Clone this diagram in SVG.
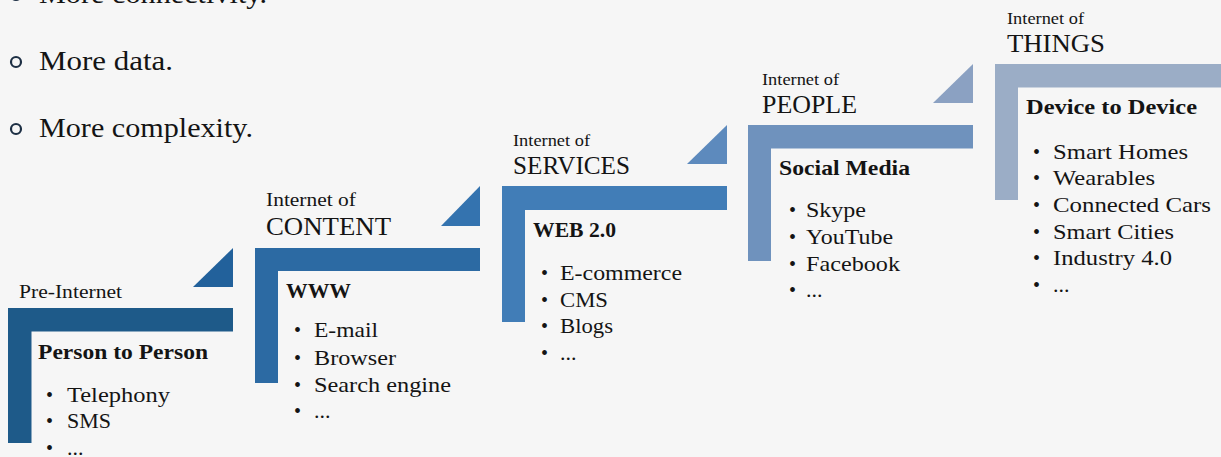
<svg xmlns="http://www.w3.org/2000/svg" width="1221" height="457" viewBox="0 0 1221 457">
<style>
text{font-family:"Liberation Serif","Times New Roman",serif;fill:#141414}
.sm{font-size:18px}
.sm2{font-size:16px}
.big{font-size:26px}
.hd{font-size:22px;font-weight:bold}
.it{font-size:22px}
.bl{font-size:20px}
.top{font-size:28px}
.ring{fill:none;stroke:#1d2f44;stroke-width:2.2}
</style>
<rect x="0" y="0" width="1221" height="457" fill="#f6f6f6"/>
<g id="intro">
<circle class="ring" cx="16" cy="-5" r="5"/>
<circle class="ring" cx="16" cy="62" r="5"/>
<circle class="ring" cx="16" cy="129" r="5"/>
<text class="top" x="39" y="3" textLength="228" lengthAdjust="spacingAndGlyphs">More connectivity.</text>
<text class="top" x="39" y="70" textLength="134" lengthAdjust="spacingAndGlyphs">More data.</text>
<text class="top" x="39" y="137" textLength="214" lengthAdjust="spacingAndGlyphs">More complexity.</text>
</g>
<g id="connectors">
<polygon points="193,287 233,287 233,248" fill="#22619b"/>
<polygon points="441,226 480,226 480,186" fill="#3473af"/>
<polygon points="687,164 727,164 727,125" fill="#5d8abd"/>
<polygon points="933,103 973,103 973,64" fill="#8ba1c2"/>
</g>
<g id="pre-internet">
<path d="M8,308 H233 V331.5 H31.5 V443 H8 Z" fill="#1e5a89"/>
<text class="sm" x="19" y="298" textLength="103" lengthAdjust="spacingAndGlyphs">Pre-Internet</text>
<text class="hd" x="38" y="359" textLength="170" lengthAdjust="spacingAndGlyphs">Person to Person</text>
<text class="bl" x="46" y="401.5">•</text><text class="it" x="67" y="401.5" textLength="103" lengthAdjust="spacingAndGlyphs">Telephony</text>
<text class="bl" x="46" y="428">•</text><text class="it" x="67" y="428" textLength="44" lengthAdjust="spacingAndGlyphs">SMS</text>
<text class="bl" x="46" y="455">•</text><text class="it" x="67" y="455">...</text>
</g>
<g id="content">
<path d="M255,248 H480 V271 H278 V383 H255 Z" fill="#2c6aa3"/>
<text class="sm" x="266" y="206" textLength="90" lengthAdjust="spacingAndGlyphs">Internet of</text>
<text class="big" x="266" y="235" textLength="125" lengthAdjust="spacingAndGlyphs">CONTENT</text>
<text class="hd" x="286" y="297.5" textLength="65" lengthAdjust="spacingAndGlyphs">WWW</text>
<text class="bl" x="294" y="337">•</text><text class="it" x="314" y="337" textLength="64" lengthAdjust="spacingAndGlyphs">E-mail</text>
<text class="bl" x="294" y="364.5">•</text><text class="it" x="314" y="364.5" textLength="82" lengthAdjust="spacingAndGlyphs">Browser</text>
<text class="bl" x="294" y="391.5">•</text><text class="it" x="314" y="391.5" textLength="137" lengthAdjust="spacingAndGlyphs">Search engine</text>
<text class="bl" x="294" y="418">•</text><text class="it" x="314" y="418">...</text>
</g>
<g id="services">
<path d="M502,186 H727 V210 H525 V322 H502 Z" fill="#417db7"/>
<text class="sm2" x="513" y="146" textLength="77" lengthAdjust="spacingAndGlyphs">Internet of</text>
<text class="big" x="513" y="174" textLength="117" lengthAdjust="spacingAndGlyphs">SERVICES</text>
<text class="hd" x="533" y="236.5" textLength="83" lengthAdjust="spacingAndGlyphs">WEB 2.0</text>
<text class="bl" x="541" y="280">•</text><text class="it" x="560" y="280" textLength="122" lengthAdjust="spacingAndGlyphs">E-commerce</text>
<text class="bl" x="541" y="306.5">•</text><text class="it" x="560" y="306.5" textLength="48" lengthAdjust="spacingAndGlyphs">CMS</text>
<text class="bl" x="541" y="333">•</text><text class="it" x="560" y="333" textLength="53" lengthAdjust="spacingAndGlyphs">Blogs</text>
<text class="bl" x="541" y="360">•</text><text class="it" x="560" y="360">...</text>
</g>
<g id="people">
<path d="M748,125 H973 V148.5 H771 V261 H748 Z" fill="#6f92bd"/>
<text class="sm2" x="762" y="85" textLength="77" lengthAdjust="spacingAndGlyphs">Internet of</text>
<text class="big" x="762" y="112.5" textLength="95" lengthAdjust="spacingAndGlyphs">PEOPLE</text>
<text class="hd" x="779" y="175" textLength="131" lengthAdjust="spacingAndGlyphs">Social Media</text>
<text class="bl" x="789" y="216.5">•</text><text class="it" x="806" y="216.5" textLength="60" lengthAdjust="spacingAndGlyphs">Skype</text>
<text class="bl" x="789" y="243.5">•</text><text class="it" x="806" y="243.5" textLength="87" lengthAdjust="spacingAndGlyphs">YouTube</text>
<text class="bl" x="789" y="270.5">•</text><text class="it" x="806" y="270.5" textLength="94" lengthAdjust="spacingAndGlyphs">Facebook</text>
<text class="bl" x="789" y="297">•</text><text class="it" x="806" y="297">...</text>
</g>
<g id="things">
<path d="M995,64 H1221 V87.5 H1018 V200 H995 Z" fill="#9badc6"/>
<text class="sm2" x="1007" y="23.5" textLength="77" lengthAdjust="spacingAndGlyphs">Internet of</text>
<text class="big" x="1007" y="51.5" textLength="98" lengthAdjust="spacingAndGlyphs">THINGS</text>
<text class="hd" x="1026" y="114" textLength="171" lengthAdjust="spacingAndGlyphs">Device to Device</text>
<text class="bl" x="1033" y="158.5">•</text><text class="it" x="1053" y="158.5" textLength="135" lengthAdjust="spacingAndGlyphs">Smart Homes</text>
<text class="bl" x="1033" y="185">•</text><text class="it" x="1053" y="185" textLength="102" lengthAdjust="spacingAndGlyphs">Wearables</text>
<text class="bl" x="1033" y="211.5">•</text><text class="it" x="1053" y="211.5" textLength="158" lengthAdjust="spacingAndGlyphs">Connected Cars</text>
<text class="bl" x="1033" y="238.5">•</text><text class="it" x="1053" y="238.5" textLength="121" lengthAdjust="spacingAndGlyphs">Smart Cities</text>
<text class="bl" x="1033" y="265">•</text><text class="it" x="1053" y="265" textLength="119" lengthAdjust="spacingAndGlyphs">Industry 4.0</text>
<text class="bl" x="1033" y="291.5">•</text><text class="it" x="1053" y="291.5">...</text>
</g>
</svg>
